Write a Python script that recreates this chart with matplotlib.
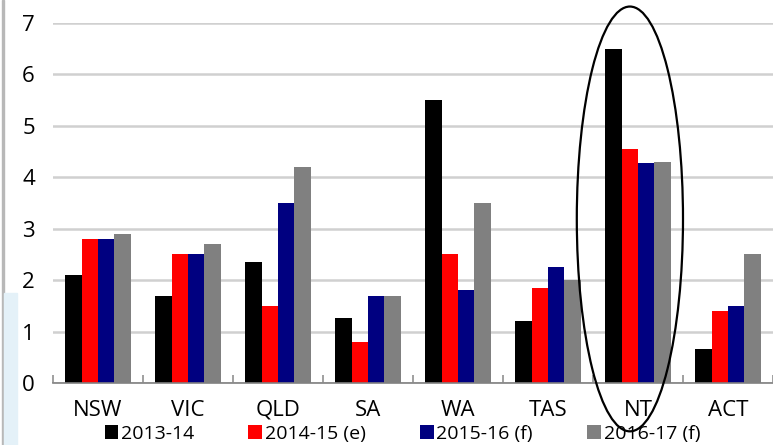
import matplotlib.pyplot as plt
import numpy as np
from matplotlib.patches import Ellipse, Rectangle

plt.rcParams['font.family'] = ['Open Sans', 'DejaVu Sans']

regions = ['NSW', 'VIC', 'QLD', 'SA', 'WA', 'TAS', 'NT', 'ACT']
series = ['2013-14', '2014-15 (e)', '2015-16 (f)', '2016-17 (f)']
y_2013 = [2.1, 1.7, 2.35, 1.27, 5.5, 1.2, 6.5, 0.66]
y_2014 = [2.8, 2.5, 1.5, 0.8, 2.5, 1.85, 4.55, 1.4]
y_2015 = [2.8, 2.5, 3.5, 1.7, 1.8, 2.25, 4.27, 1.5]
y_2016 = [2.9, 2.7, 4.2, 1.7, 3.5, 2.0, 4.3, 2.5]
colors = ['#000000', '#ff0000', '#000080', '#808080']

fig = plt.figure(figsize=(7.73, 4.45), dpi=100)
ax = fig.add_axes([53/773, 1 - 383/445, 720/773, 360/445])

# left decoration strip
fig.patches.append(Rectangle((2/773, 0), 2/773, 1, transform=fig.transFigure,
                             color='#b8b8b8', zorder=0))
fig.patches.append(Rectangle((4/773, 0), 13/773, 1 - 293/445, transform=fig.transFigure,
                             color='#e4f1f8', zorder=0))

x = np.arange(len(regions))
w = 0.183
for i, (vals, c, lab) in enumerate(zip([y_2013, y_2014, y_2015, y_2016], colors, series)):
    ax.bar(x + (i - 1.5) * w, vals, w, color=c, label=lab, zorder=3)

ax.set_xlim(-0.5, len(regions) - 0.5)
ax.set_ylim(0, 7)
ax.set_yticks(range(8))
ax.yaxis.grid(True, color='#d0d0d0', linewidth=1.8, zorder=0)
ax.tick_params(axis='y', length=0, pad=13, labelsize=16)

ax.set_xticks(np.arange(len(regions) + 1) - 0.5)
ax.set_xticklabels([])
ax.tick_params(axis='x', which='major', direction='in', length=6, color='#909090', width=1.2)
ax.set_xticks(x, minor=True)
ax.set_xticklabels(regions, minor=True)
ax.tick_params(axis='x', which='minor', length=0, pad=12, labelsize=16)

for s in ['top', 'right', 'left']:
    ax.spines[s].set_visible(False)
ax.spines['bottom'].set_color('#808080')
ax.spines['bottom'].set_linewidth(1.2)
ax.spines['bottom'].set_zorder(4)

ax.add_patch(Ellipse((5.91, 3.19), 1.18, 8.26, fill=False, edgecolor='black',
                     linewidth=1.6, clip_on=False, zorder=5))

fig.legend(loc='center', bbox_to_anchor=(0.5205, 1 - 434/445), ncol=4, frameon=False,
           fontsize=14, handlelength=0.7, handleheight=0.7, handletextpad=0.15,
           columnspacing=2.78, borderpad=0)

fig.savefig('out.png', dpi=100)
